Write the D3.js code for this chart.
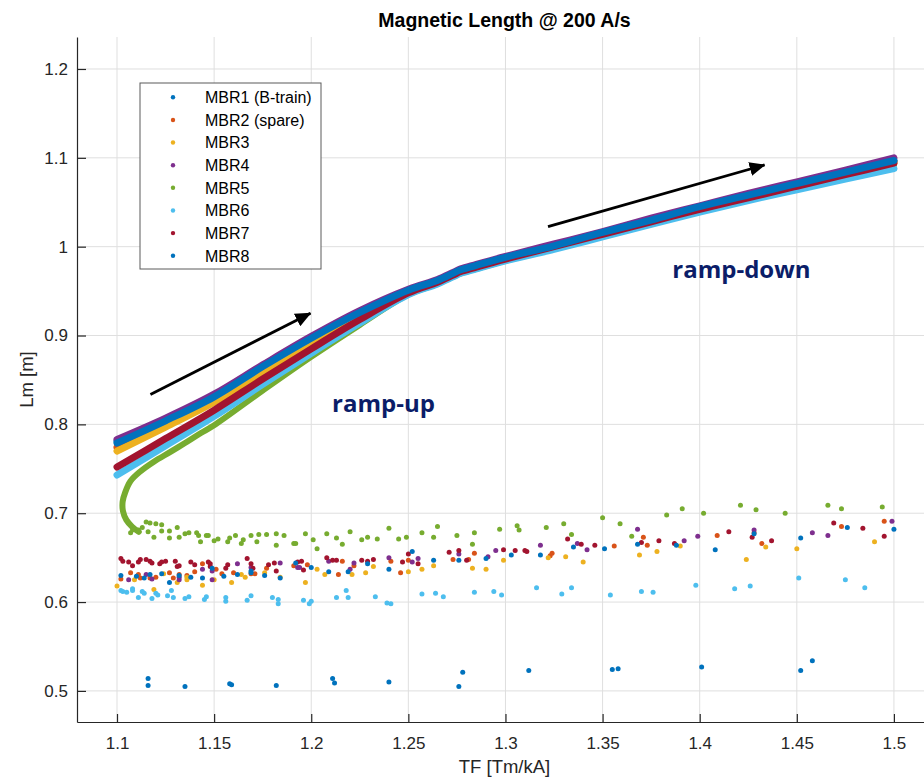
<!DOCTYPE html>
<html>
<head>
<meta charset="utf-8">
<script src="https://cdn.jsdelivr.net/npm/d3@7"></script>
<style>
  body { margin: 0; background: #fff; }
  svg { display: block; font-family: "Liberation Sans", Arial, Helvetica, sans-serif; }
  .grid line { stroke: #dfdfdf; stroke-width: 1; }
  .axis path, .axis line { stroke: #262626; stroke-width: 1.2; }
  .axis text { fill: #262626; font-size: 17px; font-family: "Liberation Sans", Arial, sans-serif; }
  .note { font-family: "Open Sans", "Noto Sans", sans-serif; font-weight: 700; font-size: 24px; fill: #0b1d68; }
</style>
</head>
<body>
<svg id="chart"></svg>
<script>
// DATA
var seriesNames = ["MBR1 (B-train)", "MBR2 (spare)", "MBR3", "MBR4", "MBR5", "MBR6", "MBR7", "MBR8"];
var seriesColors = ["#0072BD", "#D95319", "#EDB120", "#7E2F8E", "#77AC30", "#4DBEEE", "#A2142F", "#0072BD"];

var xTicks = [1.1, 1.15, 1.2, 1.25, 1.3, 1.35, 1.4, 1.45, 1.5];
var yTicks = [0.5, 0.6, 0.7, 0.8, 0.9, 1, 1.1, 1.2];
var xLimits = [1.0794, 1.5196];
var yLimits = [0.465, 1.236];

// dense ramp trail, shared TF grid
var bandTF = [1.100, 1.125, 1.150, 1.175, 1.200, 1.225, 1.250, 1.265, 1.273, 1.277, 1.285, 1.300, 1.325, 1.350, 1.375, 1.400, 1.425, 1.450, 1.475, 1.500];
var mbr1Band = [0.781, 0.805, 0.832, 0.866, 0.898, 0.927, 0.951, 0.962, 0.970, 0.974, 0.979, 0.988, 1.002, 1.016, 1.031, 1.045, 1.058, 1.071, 1.084, 1.097];
var mbr2Band = [0.774, 0.800, 0.828, 0.862, 0.894, 0.924, 0.950, 0.961, 0.969, 0.973, 0.978, 0.987, 1.001, 1.015, 1.030, 1.044, 1.057, 1.070, 1.083, 1.096];
var mbr3Band = [0.770, 0.797, 0.825, 0.858, 0.891, 0.922, 0.949, 0.960, 0.968, 0.972, 0.977, 0.986, 1.000, 1.014, 1.029, 1.043, 1.056, 1.069, 1.081, 1.094];
var mbr4Band = [0.783, 0.807, 0.834, 0.867, 0.899, 0.928, 0.952, 0.963, 0.971, 0.975, 0.980, 0.989, 1.003, 1.017, 1.032, 1.046, 1.060, 1.073, 1.086, 1.100];
var mbr6Band = [0.743, 0.776, 0.809, 0.845, 0.880, 0.914, 0.946, 0.958, 0.966, 0.970, 0.975, 0.984, 0.997, 1.011, 1.025, 1.039, 1.052, 1.064, 1.076, 1.088];
var mbr7Band = [0.752, 0.784, 0.816, 0.851, 0.885, 0.918, 0.948, 0.960, 0.968, 0.972, 0.977, 0.986, 1.000, 1.014, 1.028, 1.042, 1.055, 1.068, 1.081, 1.094];
var mbr8Band = [0.779, 0.804, 0.831, 0.865, 0.897, 0.926, 0.951, 0.962, 0.970, 0.974, 0.979, 0.988, 1.001, 1.016, 1.030, 1.045, 1.058, 1.071, 1.084, 1.097];

// MBR5 has its own trail (the curl at low TF)
var mbr5BandTF = [1.1112, 1.1077, 1.1048, 1.1031, 1.1029, 1.1043, 1.1069, 1.112, 1.119, 1.1275, 1.135, 1.143, 1.150, 1.175, 1.200, 1.225, 1.250, 1.265, 1.273, 1.277, 1.285, 1.300, 1.325, 1.350, 1.375, 1.400, 1.425, 1.450, 1.475, 1.500];
var mbr5BandLm = [0.679, 0.685, 0.6925, 0.702, 0.713, 0.724, 0.736, 0.747, 0.758, 0.769, 0.779, 0.790, 0.799, 0.838, 0.876, 0.912, 0.946, 0.958, 0.966, 0.970, 0.975, 0.984, 0.998, 1.012, 1.026, 1.040, 1.053, 1.066, 1.079, 1.092];

// scattered points [TF, Lm]
var mbr1Scatter = [[1.116,0.514],[1.116,0.506],[1.135,0.505],[1.158,0.508],[1.159,0.507],[1.182,0.506],[1.211,0.514],[1.212,0.509],[1.240,0.510],[1.276,0.505],[1.278,0.521],[1.312,0.523],[1.355,0.524],[1.358,0.525],[1.401,0.527],[1.452,0.523],[1.458,0.534]];
var mbr2Scatter = [[1.102,0.626],[1.107,0.633],[1.111,0.631],[1.112,0.627],[1.117,0.627],[1.120,0.628],[1.127,0.633],[1.129,0.627],[1.132,0.631],[1.136,0.630],[1.140,0.634],[1.144,0.643],[1.151,0.637],[1.154,0.632],[1.160,0.633],[1.169,0.632],[1.171,0.632],[1.177,0.638],[1.191,0.641],[1.198,0.642],[1.214,0.631],[1.216,0.646],[1.222,0.641],[1.241,0.646],[1.246,0.633],[1.250,0.647],[1.273,0.648],[1.281,0.648],[1.284,0.655],[1.323,0.652],[1.324,0.655],[1.356,0.663],[1.371,0.673],[1.373,0.664],[1.409,0.675],[1.428,0.678],[1.432,0.666],[1.473,0.685],[1.495,0.691]];
var mbr3Scatter = [[1.100,0.618],[1.109,0.625],[1.119,0.614],[1.124,0.632],[1.131,0.622],[1.136,0.625],[1.136,0.628],[1.144,0.619],[1.150,0.625],[1.159,0.622],[1.164,0.631],[1.166,0.628],[1.176,0.633],[1.184,0.628],[1.197,0.622],[1.203,0.637],[1.207,0.631],[1.221,0.631],[1.228,0.633],[1.232,0.640],[1.250,0.634],[1.257,0.637],[1.263,0.641],[1.283,0.638],[1.290,0.637],[1.299,0.647],[1.322,0.650],[1.331,0.651],[1.340,0.645],[1.369,0.653],[1.378,0.657],[1.390,0.663],[1.424,0.648],[1.434,0.662],[1.450,0.660],[1.490,0.668]];
var mbr4Scatter = [[1.106,0.625],[1.115,0.631],[1.118,0.626],[1.132,0.628],[1.132,0.625],[1.144,0.637],[1.149,0.625],[1.149,0.635],[1.162,0.643],[1.169,0.639],[1.184,0.644],[1.193,0.639],[1.194,0.639],[1.209,0.646],[1.220,0.637],[1.222,0.644],[1.240,0.650],[1.252,0.645],[1.255,0.649],[1.276,0.654],[1.291,0.651],[1.295,0.658],[1.318,0.664],[1.337,0.666],[1.342,0.659],[1.368,0.682],[1.392,0.669],[1.399,0.674],[1.428,0.681],[1.458,0.678],[1.466,0.675],[1.499,0.691]];
var mbr5Scatter = [[1.107,0.678],[1.108,0.681],[1.111,0.681],[1.113,0.684],[1.115,0.690],[1.117,0.689],[1.120,0.688],[1.123,0.687],[1.116,0.679],[1.119,0.673],[1.123,0.680],[1.127,0.680],[1.127,0.672],[1.131,0.684],[1.132,0.673],[1.135,0.677],[1.137,0.678],[1.141,0.678],[1.142,0.675],[1.143,0.668],[1.146,0.675],[1.147,0.675],[1.150,0.669],[1.152,0.671],[1.157,0.668],[1.158,0.672],[1.161,0.675],[1.164,0.666],[1.165,0.670],[1.169,0.675],[1.172,0.668],[1.173,0.676],[1.177,0.676],[1.182,0.677],[1.182,0.664],[1.186,0.675],[1.191,0.666],[1.192,0.666],[1.197,0.677],[1.201,0.670],[1.203,0.660],[1.208,0.677],[1.213,0.672],[1.216,0.665],[1.220,0.679],[1.226,0.670],[1.229,0.673],[1.234,0.671],[1.240,0.683],[1.245,0.671],[1.249,0.673],[1.257,0.678],[1.263,0.673],[1.265,0.685],[1.275,0.675],[1.283,0.665],[1.284,0.678],[1.297,0.682],[1.306,0.686],[1.307,0.681],[1.321,0.684],[1.330,0.688],[1.334,0.676],[1.350,0.695],[1.359,0.688],[1.365,0.674],[1.383,0.698],[1.391,0.705],[1.402,0.700],[1.421,0.709],[1.429,0.704],[1.444,0.700],[1.466,0.709],[1.473,0.705],[1.494,0.707]];
var mbr6Scatter = [[1.102,0.613],[1.103,0.612],[1.105,0.611],[1.108,0.615],[1.108,0.613],[1.111,0.605],[1.113,0.612],[1.114,0.610],[1.118,0.604],[1.120,0.610],[1.121,0.608],[1.126,0.607],[1.128,0.613],[1.129,0.605],[1.135,0.604],[1.137,0.606],[1.145,0.603],[1.146,0.606],[1.156,0.605],[1.156,0.601],[1.167,0.602],[1.169,0.607],[1.180,0.605],[1.183,0.603],[1.183,0.598],[1.196,0.602],[1.199,0.598],[1.200,0.601],[1.213,0.605],[1.218,0.613],[1.219,0.605],[1.233,0.606],[1.239,0.599],[1.241,0.598],[1.257,0.609],[1.264,0.610],[1.268,0.606],[1.284,0.611],[1.294,0.612],[1.298,0.608],[1.316,0.616],[1.329,0.609],[1.334,0.616],[1.354,0.608],[1.370,0.612],[1.376,0.611],[1.398,0.619],[1.418,0.615],[1.426,0.618],[1.451,0.627],[1.475,0.625],[1.485,0.616]];
var mbr7Scatter = [[1.102,0.649],[1.103,0.646],[1.106,0.645],[1.108,0.641],[1.111,0.645],[1.112,0.648],[1.115,0.648],[1.117,0.646],[1.118,0.644],[1.122,0.643],[1.123,0.645],[1.125,0.646],[1.130,0.646],[1.131,0.640],[1.132,0.641],[1.138,0.645],[1.140,0.642],[1.147,0.645],[1.148,0.640],[1.148,0.643],[1.156,0.638],[1.157,0.642],[1.167,0.649],[1.169,0.643],[1.170,0.638],[1.178,0.642],[1.181,0.644],[1.182,0.635],[1.193,0.645],[1.195,0.646],[1.196,0.636],[1.208,0.650],[1.211,0.647],[1.213,0.647],[1.226,0.647],[1.229,0.646],[1.232,0.648],[1.247,0.645],[1.250,0.654],[1.255,0.643],[1.271,0.656],[1.276,0.658],[1.280,0.647],[1.299,0.659],[1.305,0.658],[1.310,0.658],[1.311,0.657],[1.332,0.671],[1.339,0.665],[1.346,0.664],[1.370,0.667],[1.379,0.669],[1.387,0.666],[1.415,0.679],[1.427,0.673],[1.437,0.669],[1.469,0.689],[1.484,0.683],[1.495,0.674]];
var mbr8Scatter = [[1.102,0.630],[1.110,0.629],[1.114,0.627],[1.117,0.631],[1.123,0.632],[1.127,0.622],[1.132,0.630],[1.138,0.628],[1.144,0.627],[1.149,0.638],[1.155,0.629],[1.162,0.631],[1.169,0.635],[1.169,0.633],[1.176,0.630],[1.184,0.627],[1.192,0.644],[1.200,0.639],[1.209,0.634],[1.219,0.634],[1.229,0.643],[1.240,0.637],[1.252,0.657],[1.263,0.647],[1.276,0.647],[1.290,0.649],[1.303,0.653],[1.318,0.653],[1.335,0.662],[1.351,0.660],[1.368,0.665],[1.388,0.664],[1.408,0.659],[1.428,0.677],[1.452,0.672],[1.476,0.684],[1.500,0.682]];

// annotations in data units
var arrowStartTF = [1.1172, 1.3219];
var arrowStartLm = [0.8335, 1.0225];
var arrowEndTF = [1.1996, 1.4334];
var arrowEndLm = [0.9251, 1.0920];
var noteTexts = ["ramp-up", "ramp-down"];
var noteTF = [1.2107, 1.3859];
var noteLm = [0.8143, 0.9651];

// BUILD
function zipBand(tf, lm) {
  return tf.map(function(t, i) { return [t, lm[i]]; });
}

var series = [
  { band: zipBand(bandTF, mbr1Band), pts: mbr1Scatter },
  { band: zipBand(bandTF, mbr2Band), pts: mbr2Scatter },
  { band: zipBand(bandTF, mbr3Band), pts: mbr3Scatter },
  { band: zipBand(bandTF, mbr4Band), pts: mbr4Scatter },
  { band: zipBand(mbr5BandTF, mbr5BandLm), pts: mbr5Scatter },
  { band: zipBand(bandTF, mbr6Band), pts: mbr6Scatter },
  { band: zipBand(bandTF, mbr7Band), pts: mbr7Scatter },
  { band: zipBand(bandTF, mbr8Band), pts: mbr8Scatter }
];

var width = 924, height = 778;
var plot = { left: 77, right: 932, top: 37, bottom: 722 };

var svg = d3.select("#chart").attr("width", width).attr("height", height);
svg.append("rect").attr("width", width).attr("height", height).attr("fill", "#fff");

var x = d3.scaleLinear().domain(xLimits).range([plot.left, plot.right]);
var y = d3.scaleLinear().domain(yLimits).range([plot.bottom, plot.top]);

svg.append("defs").append("clipPath").attr("id", "plotclip")
  .append("rect")
  .attr("x", plot.left).attr("y", plot.top)
  .attr("width", plot.right - plot.left).attr("height", plot.bottom - plot.top);

// grid
var grid = svg.append("g").attr("class", "grid");
grid.selectAll(".gx").data(xTicks).enter().append("line")
  .attr("x1", function(d) { return x(d); }).attr("x2", function(d) { return x(d); })
  .attr("y1", plot.top).attr("y2", plot.bottom);
grid.selectAll(".gy").data(yTicks).enter().append("line")
  .attr("x1", plot.left).attr("x2", plot.right)
  .attr("y1", function(d) { return y(d); }).attr("y2", function(d) { return y(d); });

// data
var line = d3.line()
  .x(function(d) { return x(d[0]); })
  .y(function(d) { return y(d[1]); })
  .curve(d3.curveCatmullRom.alpha(0.5));

var plotArea = svg.append("g").attr("clip-path", "url(#plotclip)");

series.forEach(function(s, i) {
  var g = plotArea.append("g");
  g.append("path")
    .attr("d", line(s.band))
    .attr("fill", "none")
    .attr("stroke", seriesColors[i])
    .attr("stroke-width", i === 4 ? 6 : 7)
    .attr("stroke-linecap", "round")
    .attr("stroke-linejoin", "round");
  g.selectAll("circle").data(s.pts).enter().append("circle")
    .attr("cx", function(d) { return x(d[0]); })
    .attr("cy", function(d) { return y(d[1]); })
    .attr("r", 2.5)
    .attr("fill", seriesColors[i]);
});

// axes
svg.append("g").attr("class", "axis")
  .attr("transform", "translate(0," + plot.bottom + ")")
  .call(d3.axisBottom(x).tickValues(xTicks).tickFormat(function(d) { return d; })
    .tickSizeInner(-8).tickSizeOuter(0).tickPadding(15));

svg.append("g").attr("class", "axis")
  .attr("transform", "translate(" + plot.left + ",0)")
  .call(d3.axisLeft(y).tickValues(yTicks).tickFormat(function(d) { return d; })
    .tickSizeInner(-9).tickSizeOuter(0).tickPadding(9));

svg.selectAll(".axis").attr("font-size", null).attr("font-family", null);

// labels
svg.append("text")
  .attr("x", (plot.left + plot.right) / 2).attr("y", 27)
  .attr("text-anchor", "middle")
  .attr("font-size", 19.5).attr("font-weight", "bold").attr("fill", "#000")
  .text("Magnetic Length @ 200 A/s");

svg.append("text")
  .attr("x", (plot.left + plot.right) / 2).attr("y", 773)
  .attr("text-anchor", "middle")
  .attr("font-size", 18.5).attr("fill", "#262626")
  .text("TF [Tm/kA]");

svg.append("text")
  .attr("transform", "translate(33," + (plot.top + plot.bottom) / 2 + ") rotate(-90)")
  .attr("text-anchor", "middle")
  .attr("font-size", 18.5).attr("fill", "#262626")
  .text("Lm [m]");

// arrows
svg.append("defs").append("marker")
  .attr("id", "head")
  .attr("markerUnits", "userSpaceOnUse")
  .attr("viewBox", "0 0 16 14")
  .attr("markerWidth", 16).attr("markerHeight", 14)
  .attr("refX", 15).attr("refY", 7)
  .attr("orient", "auto")
  .append("path").attr("d", "M0,0 L16,7 L0,14 Z").attr("fill", "#000");

arrowStartTF.forEach(function(t, i) {
  svg.append("line")
    .attr("x1", x(t)).attr("y1", y(arrowStartLm[i]))
    .attr("x2", x(arrowEndTF[i])).attr("y2", y(arrowEndLm[i]))
    .attr("stroke", "#000").attr("stroke-width", 2.8)
    .attr("marker-end", "url(#head)");
});

noteTexts.forEach(function(t, i) {
  svg.append("text").attr("class", "note")
    .attr("x", x(noteTF[i])).attr("y", y(noteLm[i]))
    .text(t);
});

// legend
var legendX = 140, legendY = 83, legendW = 181, legendH = 186, rowH = 22.63;
var legend = svg.append("g").attr("class", "legend");
legend.append("rect")
  .attr("x", legendX).attr("y", legendY)
  .attr("width", legendW).attr("height", legendH)
  .attr("fill", "#fff").attr("stroke", "#5a5a5a").attr("stroke-width", 1);

var rows = legend.selectAll(".row").data(seriesNames).enter().append("g")
  .attr("transform", function(d, i) { return "translate(" + legendX + "," + (legendY + 14.3 + i * rowH) + ")"; });
rows.append("circle").attr("cx", 33).attr("cy", 0).attr("r", 2.2)
  .attr("fill", function(d, i) { return seriesColors[i]; });
rows.append("text").attr("x", 65).attr("y", 5.8)
  .attr("font-size", 16).attr("fill", "#000")
  .text(function(d) { return d; });
</script>
</body>
</html>
